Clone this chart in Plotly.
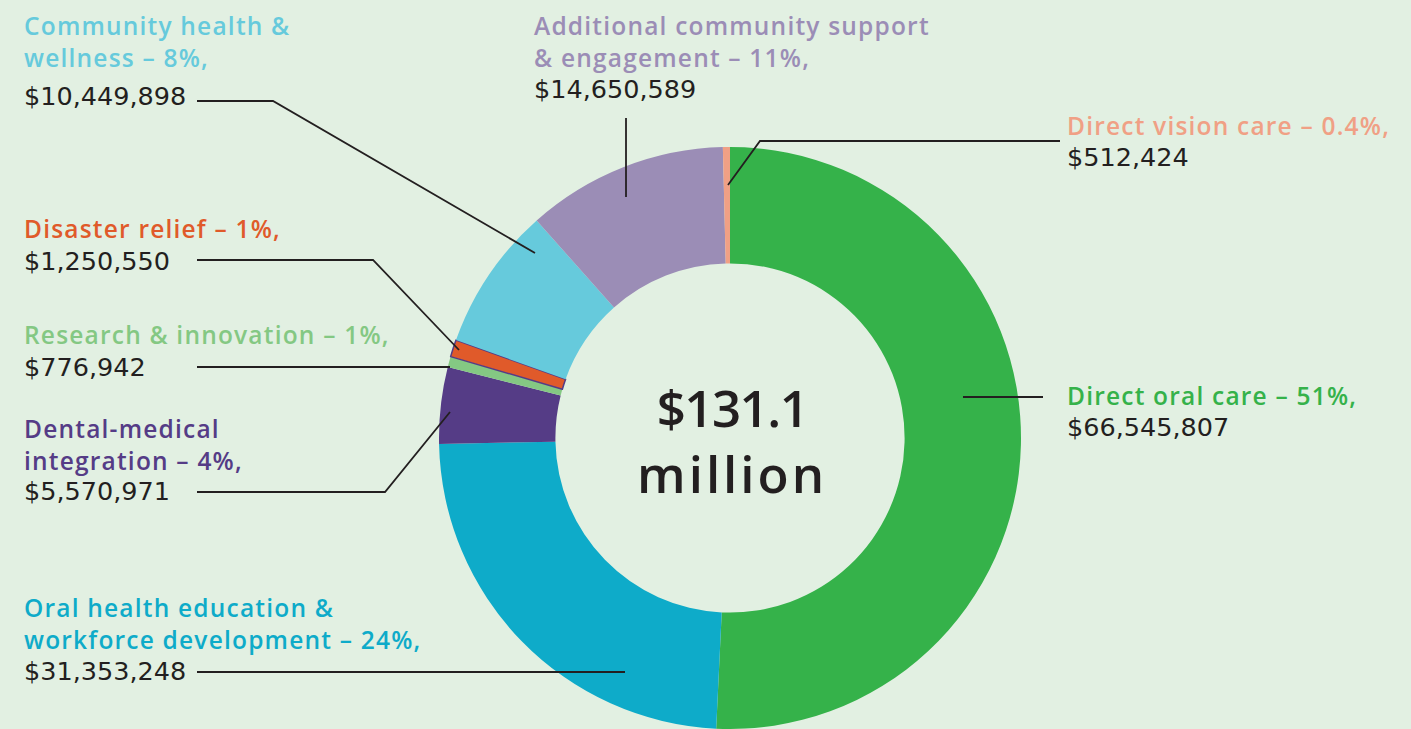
import plotly.graph_objects as go

W, H = 1411, 729

# ---- data ----
categories = [
    "Direct oral care",
    "Oral health education & workforce development",
    "Dental-medical integration",
    "Research & innovation",
    "Disaster relief",
    "Community health & wellness",
    "Additional community support & engagement",
    "Direct vision care",
]
values = [66545807, 31353248, 5570971, 776942, 1250550, 10449898, 14650589, 512424]
percent_labels = ["51%", "24%", "4%", "1%", "1%", "8%", "11%", "0.4%"]
label_lines = [
    ["Direct oral care – 51%,"],
    ["Oral health education &", "workforce development – 24%,"],
    ["Dental-medical", "integration – 4%,"],
    ["Research & innovation – 1%,"],
    ["Disaster relief – 1%,"],
    ["Community health &", "wellness – 8%,"],
    ["Additional community support", "& engagement – 11%,"],
    ["Direct vision care – 0.4%,"],
]
colors = ["#35b24a", "#0eabc9", "#553c86", "#84c883", "#e05a2a", "#66cadc", "#9b8db6", "#f0a085"]
center_text = ["$131.1", "million"]

BG = "#e2f0e2"
INK = "#231f20"
LABEL_FONT = "Open Sans"
VALUE_FONT = "DejaVu Sans"

# ---- layout helpers (pixel -> paper) ----
def px(x):
    return x / W

def py(y):
    return 1 - y / H

def spaced(s, ls):
    return f'<span style="letter-spacing:{ls}px">{s}</span>'

cx, cy, R = 730, 438, 291

fig = go.Figure()
line_w = [0, 0, 0, 0, 1.5, 0, 0, 0]
line_c = ["rgba(0,0,0,0)"] * 4 + ["#553c86"] + ["rgba(0,0,0,0)"] * 3
fig.add_trace(go.Pie(
    labels=categories,
    values=values,
    sort=False,
    direction="clockwise",
    rotation=0,
    hole=0.6,
    marker=dict(colors=colors, line=dict(width=line_w, color=line_c)),
    textinfo="none",
    hoverinfo="label+value+percent",
    showlegend=False,
    domain=dict(x=[px(cx - R), px(cx + R)], y=[py(cy + R), py(cy - R)]),
))

# label placement: (x left, label-block centre y, value centre y) in pixels
label_pos = {
    0: (1065, 395, 427),
    1: (22, 623, 671),
    2: (22, 444, 491),
    3: (22, 335, 367),
    4: (22, 228, 261),
    5: (22, 41, 96),
    6: (532, 41, 89),
    7: (1065, 125, 157),
}
leaders = {
    0: [(963, 397), (1043, 397)],
    1: [(197, 672), (625, 672)],
    2: [(197, 492), (385, 492), (450, 412)],
    3: [(197, 367), (450, 367)],
    4: [(197, 260), (373, 260), (459, 350)],
    5: [(197, 101), (273, 101), (535, 253)],
    6: [(626, 118), (626, 197)],
    7: [(1060, 141), (760, 141), (728, 185)],
}

annotations = []
for i, lines in enumerate(label_lines):
    x, ylab, yval = label_pos[i]
    annotations.append(dict(
        text="<br>".join(spaced(l, 1.2) for l in lines), x=px(x), y=py(ylab),
        xref="paper", yref="paper",
        xanchor="left", yanchor="middle", align="left", showarrow=False,
        font=dict(family=LABEL_FONT, size=24.5, color=colors[i], weight=600),
    ))
    annotations.append(dict(
        text=f"${values[i]:,}", x=px(x), y=py(yval), xref="paper", yref="paper",
        xanchor="left", yanchor="middle", align="left", showarrow=False,
        font=dict(family=VALUE_FONT, size=25.5, color=INK),
    ))

annotations.append(dict(
    text=spaced(center_text[0], -1.5) + "<br>" + spaced(center_text[1], 3),
    x=px(cx + 2), y=py(440), xref="paper", yref="paper",
    xanchor="center", yanchor="middle", align="center", showarrow=False,
    font=dict(family=LABEL_FONT, size=51, color=INK, weight=600),
))

shapes = []
for i, pts in leaders.items():
    path = "M " + " L ".join(f"{px(x):.5f},{py(y):.5f}" for x, y in pts)
    shapes.append(dict(type="path", path=path, xref="paper", yref="paper",
                       line=dict(color=INK, width=1.8)))

fig.update_layout(
    width=W, height=H,
    margin=dict(l=0, r=0, t=0, b=0),
    paper_bgcolor=BG, plot_bgcolor=BG,
    annotations=annotations, shapes=shapes,
)

fig.write_html(
    "out.html",
    config={"displayModeBar": False},
    post_script="document.body.style.margin='0';document.body.style.overflow='hidden';"
                "document.documentElement.style.overflow='hidden';",
)
